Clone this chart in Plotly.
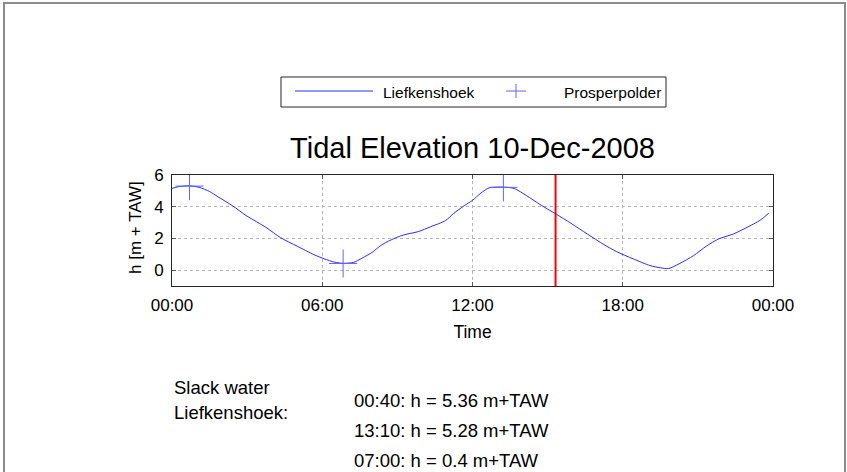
import plotly.graph_objects as go

# ---------------- data ----------------
day = "2008-12-10"
next_day = "2008-12-11"

# Liefkenshoek water level (h [m + TAW])
lk_times = ["00:00", "00:15", "00:40", "01:05", "01:30", "01:50", "02:25", "03:00",
            "03:45", "04:20", "05:00", "05:40", "06:05", "06:30", "06:50", "07:15",
            "07:35", "08:00", "08:20", "08:45", "09:15", "09:50", "10:20", "10:55",
            "11:15", "11:40", "12:00", "12:20", "12:40", "13:10", "13:40", "14:10",
            "14:40", "15:20", "15:55", "16:35", "17:15", "17:45", "18:25", "19:05",
            "19:30", "19:50", "20:15", "20:50", "21:20", "21:50", "22:25", "22:55",
            "23:30", "23:50"]
lk_heights = [5.15, 5.26, 5.32, 5.22, 4.96, 4.63, 4.06, 3.40,
              2.70, 2.05, 1.51, 0.98, 0.71, 0.50, 0.43, 0.49,
              0.75, 1.13, 1.55, 1.91, 2.22, 2.43, 2.74, 3.12,
              3.58, 4.06, 4.40, 4.86, 5.19, 5.24, 5.15, 4.69,
              4.17, 3.54, 2.97, 2.28, 1.61, 1.17, 0.71, 0.29,
              0.15, 0.10, 0.40, 0.92, 1.51, 1.97, 2.28, 2.66,
              3.16, 3.60]

# Prosperpolder slack water markers
pp_times = ["00:42", "06:50", "13:14"]
pp_heights = [5.30, 0.42, 5.22]

# current time indicator
now_time = "15:19"

y_range = [-1, 6]
y_ticks = [0, 2, 4, 6]
x_tick_hours = ["00:00", "06:00", "12:00", "18:00"]
x_tick_labels = ["00:00", "06:00", "12:00", "18:00", "00:00"]

series_names = ["Liefkenshoek", "Prosperpolder"]
title_text = "Tidal Elevation 10-Dec-2008"
x_label = "Time"
y_label = "h [m + TAW]"
slack_header = ["Slack water", "Liefkenshoek:"]
slack_lines = ["00:40: h = 5.36 m+TAW", "13:10: h = 5.28 m+TAW", "07:00: h = 0.4 m+TAW"]

# ---------------- figure ----------------
W, H = 847, 472
L, R, T, B = 172, 74, 175, 186
PW, PH = W - L - R, H - T - B


def px(x):
    return (x - L) / PW


def py(y):
    return (H - B - y) / PH


FONT = "Liberation Sans, Arial, sans-serif"
BLUE = "#2a2aff"
MARKER_BLUE = "#6262ff"

lk_x = [f"{day} {t}" for t in lk_times]
pp_x = [f"{day} {t}" for t in pp_times]
x_start = f"{day} 00:00"
x_end = f"{next_day} 00:00"
tick_vals = [f"{day} {t}" for t in x_tick_hours] + [x_end]

fig = go.Figure()
fig.add_trace(go.Scatter(x=lk_x, y=lk_heights, mode="lines", name=series_names[0],
                         line=dict(color=BLUE, width=1, shape="spline", smoothing=0.7),
                         showlegend=False))
fig.add_trace(go.Scatter(x=pp_x, y=pp_heights, mode="markers", name=series_names[1],
                         marker=dict(symbol="cross-thin", size=20, color=MARKER_BLUE,
                                     line=dict(color=MARKER_BLUE, width=1)),
                         showlegend=False))
fig.add_trace(go.Scatter(x=[f"{day} {now_time}"] * 2, y=y_range, mode="lines",
                         line=dict(color="#ff0000", width=2), showlegend=False,
                         hoverinfo="skip"))

axis_common = dict(showline=True, linecolor="#262626", linewidth=1, mirror="ticks",
                   ticks="inside", ticklen=4, tickcolor="#555555",
                   showgrid=True, gridcolor="#b4b4b4", griddash="dot", gridwidth=1,
                   zeroline=False, tickfont=dict(family=FONT, size=17, color="black"))

fig.update_xaxes(type="date", range=[x_start, x_end], tickvals=tick_vals,
                 ticktext=x_tick_labels, ticklabelstandoff=4,
                 title=dict(text=x_label, font=dict(family=FONT, size=17.5, color="black"),
                            standoff=11),
                 **axis_common)
fig.update_yaxes(range=y_range, tickvals=y_ticks, ticklabelstandoff=4, **axis_common)

shapes = []
# outer figure frame
shapes.append(dict(type="path", xref="paper", yref="paper",
                   path=f"M {px(4)} {py(480)} L {px(4)} {py(3)} L {px(845)} {py(3)} L {px(845)} {py(480)}",
                   line=dict(color="#8c8c8c", width=2)))
# legend box
shapes.append(dict(type="rect", xref="paper", yref="paper",
                   x0=px(281), x1=px(666), y0=py(107), y1=py(77),
                   line=dict(color="#262626", width=1), fillcolor="white"))
# legend line sample
shapes.append(dict(type="line", xref="paper", yref="paper",
                   x0=px(295), x1=px(373), y0=py(91), y1=py(91),
                   line=dict(color=BLUE, width=1)))
# legend cross sample
shapes.append(dict(type="line", xref="paper", yref="paper",
                   x0=px(506), x1=px(526), y0=py(91), y1=py(91),
                   line=dict(color=MARKER_BLUE, width=1)))
shapes.append(dict(type="line", xref="paper", yref="paper",
                   x0=px(516), x1=px(516), y0=py(84), y1=py(98),
                   line=dict(color=MARKER_BLUE, width=1)))

annotations = [
    dict(text=series_names[0], x=px(381), y=py(92), xanchor="left", yanchor="middle"),
    dict(text=series_names[1], x=px(562), y=py(92), xanchor="left", yanchor="middle"),
]
for a in annotations:
    a.update(xref="paper", yref="paper", showarrow=False,
             font=dict(family=FONT, size=15.5, color="black"))

annotations.append(dict(text=y_label, x=px(135), y=py(228), xref="paper", yref="paper",
                        textangle=-90, showarrow=False, xanchor="center", yanchor="middle",
                        font=dict(family=FONT, size=17, color="black")))
for i, s in enumerate(slack_header):
    annotations.append(dict(text=s, x=px(172), y=py(387 + 25 * i), xref="paper", yref="paper",
                            xanchor="left", yanchor="middle", showarrow=False,
                            font=dict(family=FONT, size=18.5, color="black")))
for i, s in enumerate(slack_lines):
    annotations.append(dict(text=s, x=px(352), y=py(400 + 30 * i), xref="paper", yref="paper",
                            xanchor="left", yanchor="middle", showarrow=False,
                            font=dict(family=FONT, size=18.5, color="black")))

fig.update_layout(
    width=W, height=H,
    margin=dict(l=L, r=R, t=T, b=B, autoexpand=False),
    paper_bgcolor="white", plot_bgcolor="white",
    title=dict(text=title_text, x=0.5, xref="paper", xanchor="center",
               y=1 - 148 / H, yref="container", yanchor="middle",
               font=dict(family=FONT, size=29, color="black")),
    shapes=shapes, annotations=annotations,
    showlegend=False,
)

fig.write_html("out.html", config={"displayModeBar": False})

# remove the default page margin so the figure sits at the window's top-left corner
with open("out.html", encoding="utf-8") as f:
    html = f.read()
html = html.replace("<head>", "<head><style>html,body{margin:0;padding:0;overflow:hidden;}</style>", 1)
with open("out.html", "w", encoding="utf-8") as f:
    f.write(html)
